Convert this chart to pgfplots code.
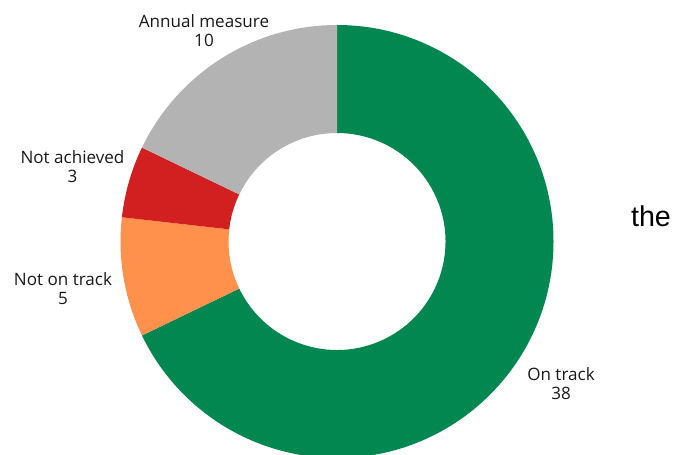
\documentclass[border=0pt]{standalone}
\usepackage{fontspec}
\setmainfont{Open Sans}
\newfontfamily\arialfont{Liberation Sans}
\usepackage{pgfplots}
\usepackage{pgfplotstable}
\pgfplotsset{compat=1.18}
\definecolor{cOn}{HTML}{038751}
\definecolor{cNotOn}{HTML}{FF914D}
\definecolor{cNotAch}{HTML}{D21F1F}
\definecolor{cAnnual}{HTML}{B3B3B3}

\pgfplotstableread{
name value
OnTrack 38
NotOnTrack 5
NotAchieved 3
Annual 10
}\datatable
\pgfplotstablegetelem{0}{value}\of\datatable \let\vA\pgfplotsretval
\pgfplotstablegetelem{1}{value}\of\datatable \let\vB\pgfplotsretval
\pgfplotstablegetelem{2}{value}\of\datatable \let\vC\pgfplotsretval
\pgfplotstablegetelem{3}{value}\of\datatable \let\vD\pgfplotsretval
\pgfmathsetmacro\tot{\vA+\vB+\vC+\vD}
\pgfmathsetmacro\aA{90}
\pgfmathsetmacro\aB{\aA-360*\vA/\tot}
\pgfmathsetmacro\aC{\aB-360*\vB/\tot}
\pgfmathsetmacro\aD{\aC-360*\vC/\tot}
\pgfmathsetmacro\aE{\aD-360*\vD/\tot}

\def\cx{337}
\def\cy{212.5}
\def\Ro{216.5}
\def\Ri{108.5}
\newcommand\donutwedge[3]{%
  \fill[#3] (axis cs:{\cx+\Ro*cos(#1)},{\cy+\Ro*sin(#1)})
    arc[start angle=#1, end angle=#2, radius=\Ro*0.75pt]
    -- (axis cs:{\cx+\Ri*cos(#2)},{\cy+\Ri*sin(#2)})
    arc[start angle=#2, end angle=#1, radius=\Ri*0.75pt] -- cycle;}

\begin{document}
\begin{tikzpicture}
\begin{axis}[
  x=0.75pt, y=0.75pt,
  xmin=0, xmax=680, ymin=0, ymax=454,
  hide axis, clip=true,
]
\donutwedge{\aA}{\aB}{cOn}
\donutwedge{\aB}{\aC}{cNotOn}
\donutwedge{\aC}{\aD}{cNotAch}
\donutwedge{\aD}{\aE}{cAnnual}
\begin{scope}[every node/.style={align=center, text=black!90, font=\fontsize{12.8}{14.25}\selectfont}]
\node at (axis cs:204,423.5) {Annual measure\\\vD};
\node at (axis cs:72.5,287) {Not achieved\\\vC};
\node at (axis cs:63,165) {Not on track\\\vB};
\node at (axis cs:561,70.5) {On track\\\vA};
\end{scope}
\node[font=\arialfont\fontsize{21.5}{24}\selectfont] at (axis cs:651,238) {the};
\end{axis}
\pgfresetboundingbox
\useasboundingbox (current axis.south west) rectangle (current axis.north east);
\end{tikzpicture}
\end{document}
